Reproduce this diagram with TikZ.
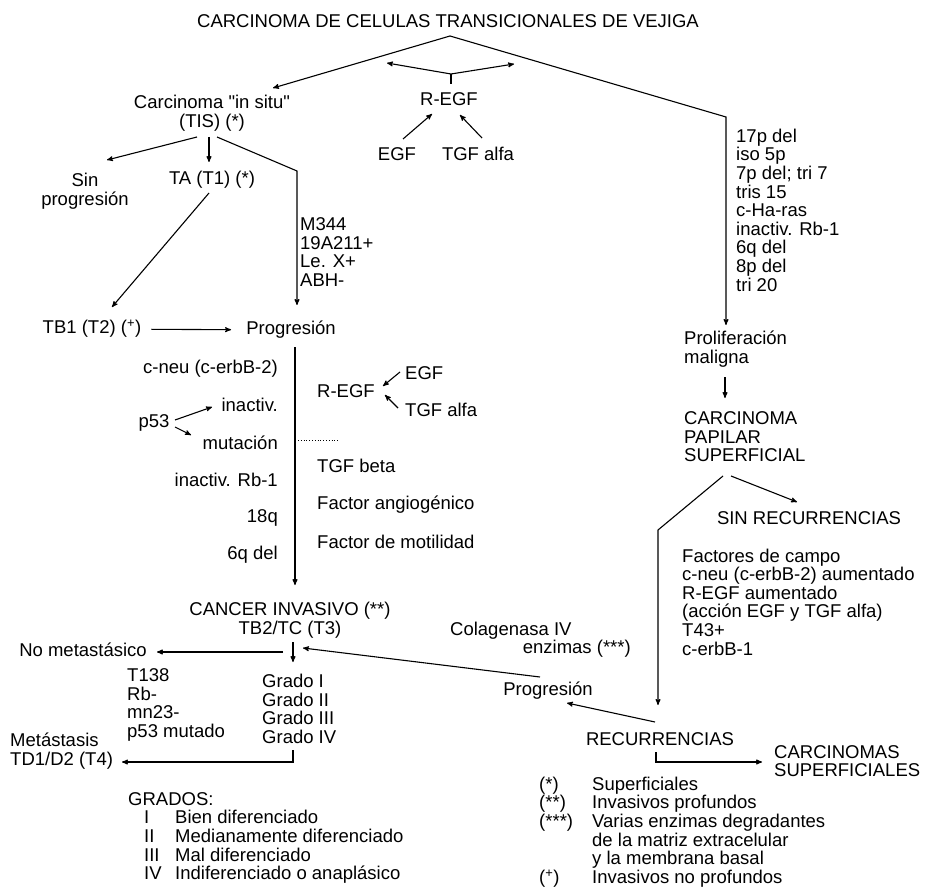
\documentclass[tikz,border=0pt]{standalone}
\usepackage{fontspec}
\setmainfont{Liberation Sans}[Ligatures=TeXOff]
\usetikzlibrary{arrows}

\tikzset{
  txt/.style={inner sep=0pt, align=center},
  lcol/.style={inner sep=0pt, align=left, anchor=west},
  rcol/.style={inner sep=0pt, align=right, anchor=east},
  link/.style={line width=1.1pt},
  arr/.style={link, -stealth'},
}
\newcommand{\fnm}[1]{\makebox[53pt][l]{#1}}
\newcommand{\grd}[1]{\hspace*{16pt}\makebox[31pt][l]{#1}}

\begin{document}
\begin{tikzpicture}[x=1pt, y=-1pt, font=\fontsize{18.5}{18.6}\selectfont]
  \useasboundingbox (0,0) rectangle (928,890);

  % top
  \node[txt] (title) at (448,21) {CARCINOMA DE CELULAS TRANSICIONALES DE VEJIGA};
  \node[txt] (regf1) at (449,99) {R-EGF};
  \node[txt] (egf1) at (397,154) {EGF};
  \node[txt] (tgfa1) at (478,154) {TGF alfa};
  \node[txt] (tis) at (212,113) {Carcinoma "in situ"\\(TIS) (*)};
  \node[txt] (sinprog) at (85,191) {Sin\\progresión};
  \node[txt] (ta) at (212,180) {TA (T1) (*)};
  \node[lcol] (mark) at (300,252) {M344\\19A211+\\Le. X+\\ABH-};
  \node[lcol] (chrom) at (736,210) {17p del\\iso 5p\\7p del; tri 7\\tris 15\\c-Ha-ras\\inactiv. Rb-1\\6q del\\8p del\\tri 20};

  % middle left
  \node[txt] (tb1) at (92,329) {TB1 (T2) (\textsuperscript{+})};
  \node[txt] (prog1) at (291,330) {Progresión};
  \node[rcol] (cneu) at (278,369) {c-neu (c-erbB-2)};
  \node[rcol] (inact) at (278,405) {inactiv.};
  \node[txt] (p53) at (154,423) {p53};
  \node[rcol] (mut) at (278,443) {mutación};
  \node[rcol] (rbinact) at (278,480) {inactiv. Rb-1};
  \node[rcol] (q18) at (278,518) {18q};
  \node[rcol] (q6) at (278,555) {6q del};
  \node[lcol] (regf2) at (317,391) {R-EGF};
  \node[lcol] (egf2) at (405,373) {EGF};
  \node[lcol] (tgfa2) at (405,410) {TGF alfa};
  \node[lcol] (tgfb) at (317,466) {TGF beta};
  \node[lcol] (angio) at (317,505) {Factor angiogénico};
  \node[lcol] (motil) at (317,542) {Factor de motilidad};

  % right
  \node[lcol] (prolif) at (684,349) {Proliferación\\maligna};
  \node[lcol] (cps) at (684,437) {CARCINOMA\\PAPILAR\\SUPERFICIAL};
  \node[txt] (sinrec) at (809,518) {SIN RECURRENCIAS};
  \node[lcol] (campo) at (682,602) {Factores de campo\\c-neu (c-erbB-2) aumentado\\R-EGF aumentado\\(acción EGF y TGF alfa)\\T43+\\c-erbB-1};
  \node[lcol] (colag) at (450,631) {Colagenasa IV};
  \node[rcol] (enzim) at (631,649) {enzimas (***)};
  \node[txt] (prog2) at (548,691) {Progresión};
  \node[txt] (recur) at (660,739) {RECURRENCIAS};
  \node[lcol] (cs) at (774,761) {CARCINOMAS\\SUPERFICIALES};
  \node[lcol] (notes) at (539,832) {\fnm{(*)}Superficiales\\\fnm{(**)}Invasivos profundos\\\fnm{(***)}Varias enzimas degradantes\\\hspace*{53pt}de la matriz extracelular\\\hspace*{53pt}y la membrana basal\\\fnm{(\textsuperscript{+})}Invasivos no profundos};

  % bottom left
  \node[txt] (cancer) at (290,620) {CANCER INVASIVO (**)\\TB2/TC (T3)};
  \node[rcol] (nometa) at (147,650) {No metastásico};
  \node[lcol] (t138) at (127,705) {T138\\Rb-\\mn23-\\p53 mutado};
  \node[lcol] (grado) at (262,709) {Grado I\\Grado II\\Grado III\\Grado IV};
  \node[lcol] (meta) at (10,751) {Metástasis\\TD1/D2 (T4)};
  \node[lcol] (grados) at (128,838) {GRADOS:\\\grd{I}Bien diferenciado\\\grd{II}Medianamente diferenciado\\\grd{III}Mal diferenciado\\\grd{IV}Indiferenciado o anaplásico};

  \path (450,36) coordinate (apex) (273,88) coordinate (tisin)
        (726,117) coordinate (rbend) (726,325) coordinate (prolin)
        (451,74) coordinate (rtop) (451,84) coordinate (rtick)
        (387,63) coordinate (rl) (514,64) coordinate (rr)
        (403,139) coordinate (egfout) (432,114) coordinate (egfin)
        (482,138) coordinate (tgfout) (460,115) coordinate (tgfin)
        (197,137) coordinate (tisl) (107,160) coordinate (sinin)
        (209,137) coordinate (tism) (209,162) coordinate (tain)
        (217,137) coordinate (tisr) (297,171) coordinate (mbend) (297,305) coordinate (prog1in)
        (209,193) coordinate (taout) (112,307) coordinate (tb1in)
        (295,347) coordinate (prog1out) (295,585) coordinate (cancerin)
        (175,420) coordinate (p53a) (212,407) coordinate (inactin)
        (175,427) coordinate (p53b) (191,435) coordinate (mutin)
        (298,440) coordinate (dotl) (338,440) coordinate (dotr)
        (400,372) coordinate (egf2out) (383,386) coordinate (egf2in)
        (398,408) coordinate (tgf2out) (385,395) coordinate (tgf2in)
        (725,377) coordinate (prolout) (725,398) coordinate (cpsin)
        (723,476) coordinate (cpsl) (658,530) coordinate (lbend) (658,705) coordinate (recin)
        (731,476) coordinate (cpsr) (797,502) coordinate (sinrecin)
        (655,722) coordinate (recout) (567,703) coordinate (prog2in)
        (540,677) coordinate (prog2out) (303,648) coordinate (cancerrt)
        (293,642) coordinate (ctick) (293,662) coordinate (gradin)
        (283,652) coordinate (nmout) (157,652) coordinate (nmin)
        (293,750) coordinate (gradout) (293,762) coordinate (gradbend) (122,762) coordinate (metain)
        (656,752) coordinate (recdown) (656,762) coordinate (recbend) (762,762) coordinate (csin);

  \draw[arr] (apex) -- (tisin);
  \draw[arr] (apex) -- (rbend) -- (prolin);
  \draw[link] (rtick) -- (rtop);
  \draw[arr] (rtop) -- (rl);
  \draw[arr] (rtop) -- (rr);
  \draw[arr] (egfout) -- (egfin);
  \draw[arr] (tgfout) -- (tgfin);
  \draw[arr] (tisl) -- (sinin);
  \draw[arr] (tism) -- (tain);
  \draw[arr] (tisr) -- (mbend) -- (prog1in);
  \draw[arr] (taout) -- (tb1in);
  \draw[arr, shorten <=10pt, shorten >=15pt] (tb1) -- (prog1);
  \draw[arr] (prog1out) -- (cancerin);
  \draw[arr] (p53a) -- (inactin);
  \draw[arr] (p53b) -- (mutin);
  \draw[dotted, line width=0.8pt] (dotl) -- (dotr);
  \draw[arr] (egf2out) -- (egf2in);
  \draw[arr] (tgf2out) -- (tgf2in);
  \draw[arr] (prolout) -- (cpsin);
  \draw[arr] (cpsl) -- (lbend) -- (recin);
  \draw[arr] (cpsr) -- (sinrecin);
  \draw[arr] (recout) -- (prog2in);
  \draw[arr] (prog2out) -- (cancerrt);
  \draw[arr] (ctick) -- (gradin);
  \draw[arr] (nmout) -- (nmin);
  \draw[arr] (gradout) -- (gradbend) -- (metain);
  \draw[arr] (recdown) -- (recbend) -- (csin);
\end{tikzpicture}
\end{document}
